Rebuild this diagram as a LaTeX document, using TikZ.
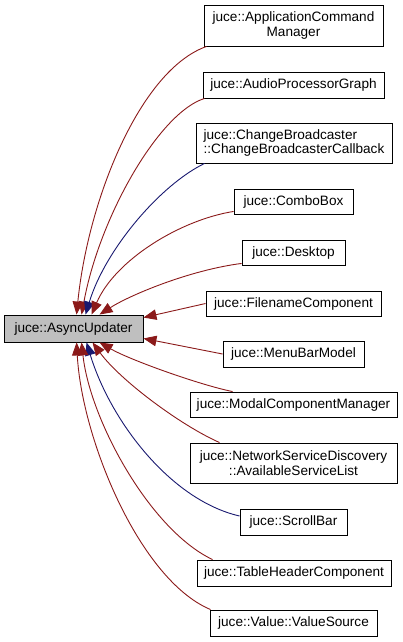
\documentclass[tikz,border=0pt]{standalone}
\usepackage{fontspec}
\setmainfont{Liberation Sans}
\usetikzlibrary{arrows.meta}
\definecolor{edgered}{RGB}{139,26,26}
\definecolor{edgeblue}{RGB}{25,25,112}
\definecolor{basegray}{RGB}{191,191,191}
\tikzset{
  cls/.style={draw=black, line width=0.9pt, fill=white, inner sep=0pt,
    font=\fontsize{13.6}{14.5}\selectfont, align=center},
  priv/.style={draw=edgered, line width=0.9pt, -{Triangle[length=13pt,width=10.5pt]}, fill=none},
  pub/.style={draw=edgeblue, line width=0.9pt, -{Triangle[length=13pt,width=10.5pt]}, fill=none},
}
\begin{document}
\begin{tikzpicture}[x=1pt,y=-1pt]
\useasboundingbox (0,0) rectangle (403,642);
\node[cls, fill=basegray, minimum width=139pt, minimum height=27pt] (au) at (73.5,328.5) {juce::AsyncUpdater};
\node[cls, minimum width=179pt, minimum height=41pt] (acm) at (293.5,25.5) {juce::ApplicationCommand\\Manager};
\node[cls, minimum width=181pt, minimum height=26pt] (apg) at (293.5,85) {juce::AudioProcessorGraph};
\node[cls, minimum width=196pt, minimum height=40pt, align=left] (cb) at (294,143) {juce::ChangeBroadcaster\\::ChangeBroadcasterCallback};
\node[cls, minimum width=119pt, minimum height=25pt] (combo) at (293.5,201.5) {juce::ComboBox};
\node[cls, minimum width=103pt, minimum height=25pt] (desk) at (293.5,252.5) {juce::Desktop};
\node[cls, minimum width=175pt, minimum height=25pt] (fname) at (293.5,303.5) {juce::FilenameComponent};
\node[cls, minimum width=141pt, minimum height=26pt] (menu) at (293.5,354) {juce::MenuBarModel};
\node[cls, minimum width=207pt, minimum height=25pt] (modal) at (293.5,404.5) {juce::ModalComponentManager};
\node[cls, minimum width=207pt, minimum height=40pt] (nsd) at (293.5,463) {juce::NetworkServiceDiscovery\\::AvailableServiceList};
\node[cls, minimum width=107pt, minimum height=26pt] (scroll) at (293.5,522) {juce::ScrollBar};
\node[cls, minimum width=194pt, minimum height=26pt] (table) at (294,573) {juce::TableHeaderComponent};
\node[cls, minimum width=167pt, minimum height=26pt] (vs) at (293.5,623) {juce::Value::ValueSource};

% upper edges
\draw[priv] ([xshift=3pt]acm.south west) .. controls (140,70) and (88,200) .. ([xshift=73pt]au.north west);
\draw[priv] ([xshift=2pt]apg.south west) .. controls (160,112) and (100,215) .. ([xshift=78pt]au.north west);
\draw[pub] ([xshift=9pt]cb.south west) .. controls (160,185) and (105,250) .. ([xshift=82pt]au.north west);
\draw[priv] ([yshift=3pt]combo.south west) .. controls (180,220) and (115,260) .. ([xshift=88pt]au.north west);
\draw[priv] ([yshift=2pt]desk.south west) .. controls (190,270) and (130,295) .. ([xshift=96pt]au.north west);
% right side
\draw[priv] (fname.west) -- ([yshift=-3pt]au.north east);
\draw[priv] (menu.west) -- ([yshift=4pt]au.south east);
% lower edges
\draw[priv] ([xshift=43pt]modal.north west) .. controls (200,385) and (130,360) .. ([xshift=96pt]au.south west);
\draw[priv] ([xshift=30pt]nsd.north west) .. controls (180,425) and (120,380) .. ([xshift=89pt]au.south west);
\draw[pub] ([yshift=6pt]scroll.west) .. controls (170,500) and (110,420) .. ([xshift=83pt]au.south west);
\draw[priv] ([xshift=16pt]table.north west) .. controls (150,530) and (90,420) .. ([xshift=78pt]au.south west);
\draw[priv] ([xshift=1pt]vs.north west) .. controls (140,580) and (82,440) .. ([xshift=73pt]au.south west);
\end{tikzpicture}
\end{document}
